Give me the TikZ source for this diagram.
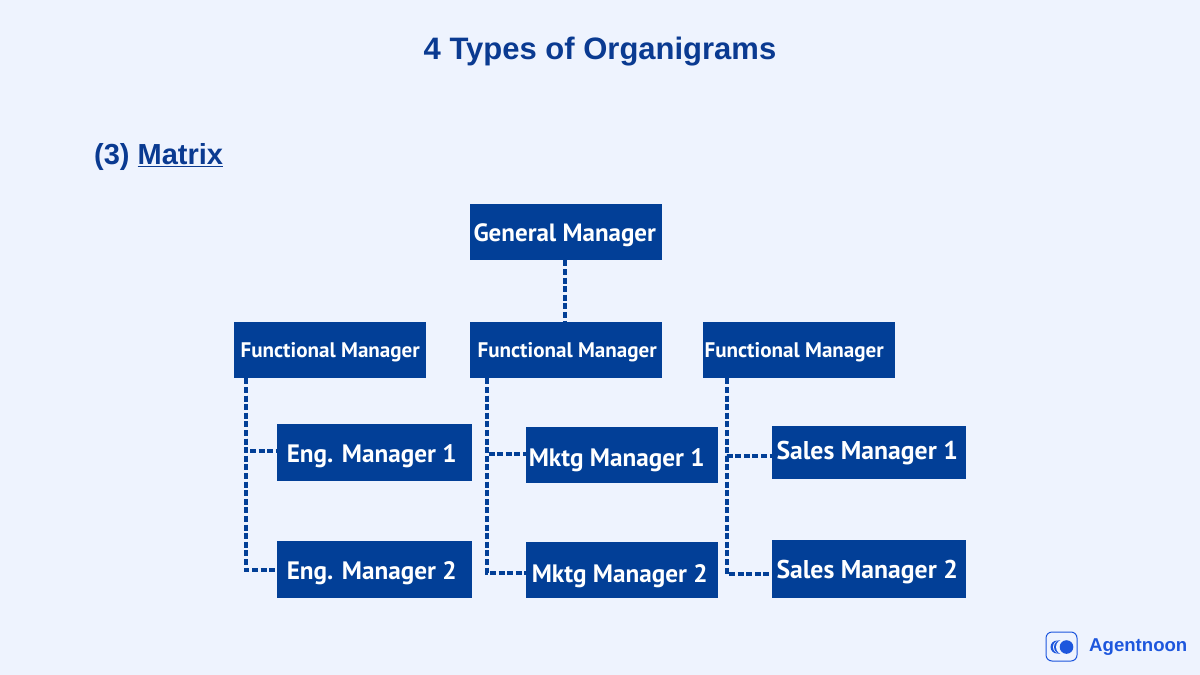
\documentclass[tikz,border=0pt]{standalone}
\usepackage{fontspec}
\setmainfont{Liberation Sans}
\newfontfamily\boxfont{PT Sans}
\definecolor{bgc}{HTML}{EEF3FE}
\definecolor{navy}{HTML}{023F97}
\definecolor{titlec}{HTML}{0A3A91}
\definecolor{logoc}{HTML}{1D56DD}
\tikzset{
  box/.style={draw=none,fill=navy,text=white,inner sep=0pt,anchor=north west},
  fmbox/.style={box,minimum width=192pt,minimum height=56pt,text height=15pt,text depth=0pt,font=\boxfont\bfseries\fontsize{21.1}{22}\selectfont},
  gmbox/.style={fmbox,text height=19pt,text depth=0pt,font=\boxfont\bfseries\fontsize{25}{28}\selectfont},
  mgrbox/.style={box,text height=19pt,text depth=0pt,font=\boxfont\bfseries\fontsize{25.2}{28}\selectfont},
  salesbox/.style={mgrbox,minimum width=194pt,font=\boxfont\bfseries\fontsize{25.7}{28}\selectfont},
  link/.style={draw=navy,line width=4pt,dash pattern=on 6pt off 2.6pt}
}
\begin{document}
\begin{tikzpicture}[x=1pt,y=-1pt]
\useasboundingbox[fill=bgc] (0,0) rectangle (1200,675);
\node[font=\bfseries\fontsize{31}{36}\selectfont,text=titlec] (title) at (600,52) {4 Types of Organigrams};
\node[font=\bfseries\fontsize{29}{34}\selectfont,text=titlec,anchor=west,inner sep=0pt] (sub) at (94,157) {(3) \underline{Matrix}};
\node[gmbox] (gm) at (470,204) {General Manager\kern3pt};
\node[fmbox] (f1) at (234,322) {Functional Manager};
\node[fmbox] (f2) at (470,322) {\kern2pt Functional Manager};
\node[fmbox] (f3) at (703,322) {Functional Manager\kern10pt};
\node[mgrbox,minimum width=195pt,minimum height=57pt] (e1) at (277,424) {Eng. Manager 1\kern6pt};
\node[mgrbox,minimum width=195pt,minimum height=57pt] (e2) at (277,541) {Eng. Manager 2\kern6pt};
\node[mgrbox,minimum width=192pt,minimum height=56pt,text height=23pt] (m1) at (526,427) {Mktg Manager 1\kern11pt};
\node[mgrbox,minimum width=192pt,minimum height=56pt,text height=25pt] (m2) at (526,542) {Mktg Manager 2\kern5pt};
\node[salesbox,minimum height=53pt,text height=13pt] (s1) at (772,426) {Sales Manager 1\kern4pt};
\node[salesbox,minimum height=58pt] (s2) at (772,540) {Sales Manager 2\kern4pt};
\draw[link] ([xshift=-1pt]gm.south) -- ([xshift=-1pt]f2.north);
\draw[link] ([xshift=11.5pt]f1.south west) |- ([yshift=1.5pt]e1.west);
\draw[link] ([xshift=11.5pt]f1.south west) |- (e2.west);
\draw[link] ([xshift=17pt]f2.south west) |- ([yshift=1pt]m1.west);
\draw[link] ([xshift=17pt]f2.south west) |- ([yshift=-3pt]m2.west);
\draw[link] ([xshift=24pt]f3.south west) |- ([yshift=-3.5pt]s1.west);
\draw[link] ([xshift=24pt]f3.south west) |- ([yshift=-5pt]s2.west);
\draw[draw=logoc,line width=1pt,fill=bgc,rounded corners=6pt] (1046,632) rectangle (1077,661);
\fill[logoc] (1057,647) circle (6.5pt);
\fill[bgc] (1059.5,647) circle (6.5pt);
\fill[logoc] (1061,647) circle (7pt);
\fill[bgc] (1063.5,647) circle (7.5pt);
\fill[logoc] (1066.5,647) circle (6.8pt);
\node[font=\bfseries\fontsize{18.6}{22}\selectfont,text=logoc,anchor=west,inner sep=0pt] (brand) at (1089,647.5) {Agentnoon};
\end{tikzpicture}
\end{document}
